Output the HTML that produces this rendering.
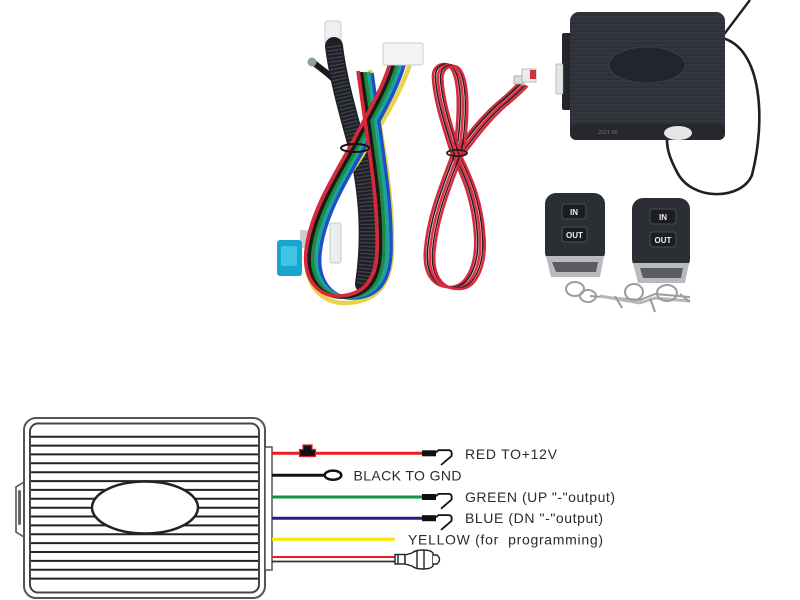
<!DOCTYPE html>
<html><head><meta charset="utf-8"><style>
html,body{margin:0;padding:0;background:#fff;}
svg{display:block;}
</style></head><body>
<svg width="800" height="600" viewBox="0 0 800 600" xmlns="http://www.w3.org/2000/svg">
<rect width="800" height="600" fill="#fff"/>
<defs>
<clipPath id="boxclip"><rect x="570" y="12" width="155" height="128" rx="9"/></clipPath>
<path id="bundle" d="M398,64 C390,92 372,120 358,148 C340,180 318,215 314,252 C311,282 328,298 347,297 C370,296 384,284 385,250 C386,200 378,160 366,72"/>
<path id="ybundle" d="M410,64 C400,95 380,125 364,152 C346,184 312,212 307,252 C303,288 325,304 346,303 C374,302 391,288 392,250 C393,200 386,160 370,70"/>
<path id="rloop" d="M456,155 C445,185 432,215 429,250 C427,275 438,288 455,287 C472,286 481,262 479,235 C477,200 466,175 456,155 C448,130 438,100 437,78 C436,66 446,62 452,65 C462,72 463,100 461,125 C460,140 458,150 456,155 C468,140 480,122 500,104 C510,96 516,90 522,84"/>
</defs>

<!-- ===== Harness ===== -->
<rect x="325" y="21" width="16" height="23" rx="3" fill="#eef1f1" stroke="#c9cccc" stroke-width="1"/>
<path d="M313,62 C322,70 330,74 340,86" stroke="#1a1a1a" stroke-width="6" fill="none" stroke-linecap="round"/>
<circle cx="312" cy="62" r="4.5" fill="#8fa096"/>
<path d="M334,46 C338,80 350,120 358,150 C366,185 372,230 364,284" stroke="#1e2026" stroke-width="18" fill="none" stroke-linecap="round"/>
<path d="M334,46 C338,80 350,120 358,150 C366,185 372,230 364,284" stroke="#40434c" stroke-width="15" fill="none" stroke-dasharray="1.3 2.4"/>
<!-- fuse & connectors -->
<rect x="300" y="230" width="11" height="18" fill="#c9cfd2"/>
<rect x="277" y="240" width="25" height="36" rx="3" fill="#18a6cf"/>
<rect x="281" y="246" width="16" height="20" rx="2" fill="#43c3e2"/>
<rect x="330" y="223" width="11" height="40" rx="2" fill="#e9eeee" stroke="#c5cbcb"/>
<!-- colored wires -->
<use href="#ybundle" stroke="#e8d34a" stroke-width="4.5" fill="none"/>
<use href="#bundle" transform="translate(6,1)" stroke="#1f4fc8" stroke-width="3.6" fill="none"/>
<use href="#bundle" transform="translate(2.5,0)" stroke="#1aa49a" stroke-width="3.6" fill="none"/>
<use href="#bundle" transform="translate(-1,0)" stroke="#1e8a40" stroke-width="3.6" fill="none"/>
<use href="#bundle" transform="translate(-4.5,0)" stroke="#1a1a1a" stroke-width="3.6" fill="none"/>
<use href="#bundle" transform="translate(-8,-1)" stroke="#d8283a" stroke-width="3.6" fill="none"/>
<ellipse cx="355" cy="148" rx="14" ry="4" fill="none" stroke="#111" stroke-width="2"/>
<rect x="383" y="43" width="40" height="22" rx="2" fill="#f2f4f5" stroke="#c8cccf"/>

<!-- ===== Red cable ===== -->
<use href="#rloop" transform="translate(-4,0)" stroke="#d42a3c" stroke-width="2.6" fill="none"/>
<use href="#rloop" transform="translate(-1.5,0)" stroke="#222" stroke-width="1.6" fill="none"/>
<use href="#rloop" transform="translate(1,1)" stroke="#e0304a" stroke-width="2.6" fill="none"/>
<use href="#rloop" transform="translate(3.5,1)" stroke="#2a1a1a" stroke-width="1.4" fill="none"/>
<use href="#rloop" transform="translate(5.5,2)" stroke="#d8283a" stroke-width="2.4" fill="none"/>
<ellipse cx="457" cy="153" rx="10" ry="3.2" fill="none" stroke="#222" stroke-width="1.8"/>
<rect x="514" y="76" width="10" height="8" fill="#dcdcdc" stroke="#999" stroke-width="0.8"/>
<rect x="522" y="69" width="14" height="13" fill="#ececec" stroke="#aaa" stroke-width="0.8"/>
<rect x="530" y="70" width="6" height="9" fill="#d03040"/>

<!-- ===== Control box ===== -->
<path d="M722,38 C762,48 766,120 752,175 C742,200 692,202 677,172 C669,157 667,148 667,140" stroke="#1e1f22" stroke-width="2.6" fill="none"/>
<path d="M722,37 L750,0" stroke="#1e1f22" stroke-width="2.4" fill="none"/>
<rect x="562" y="33" width="11" height="77" rx="2" fill="#24262c"/>
<rect x="556" y="64" width="7" height="30" fill="#e4e6e6" stroke="#999" stroke-width="0.6"/>
<rect x="570" y="12" width="155" height="128" rx="9" fill="#2d3037"/>
<g clip-path="url(#boxclip)" stroke="#3a3d45" stroke-width="1">
<path d="M570,17H725M570,21H725M570,25H725M570,29H725M570,33H725M570,37H725M570,41H725M570,45H725M570,49H725M570,53H725M570,57H725M570,61H725M570,65H725M570,69H725M570,73H725M570,77H725M570,81H725M570,85H725M570,89H725M570,93H725M570,97H725M570,101H725M570,105H725M570,109H725M570,113H725M570,117H725M570,121H725"/>
</g>
<rect x="570" y="124" width="155" height="16" rx="6" fill="#26282e"/>
<ellipse cx="647" cy="65" rx="38" ry="18" fill="#22252b" stroke="#3c3f46" stroke-width="1"/>
<text x="598" y="134" font-family="Liberation Serif, serif" font-size="6" fill="#777">2021.06</text>
<ellipse cx="678" cy="133" rx="14" ry="7" fill="#e6e6e6"/>

<!-- ===== Remotes ===== -->
<g>
<rect x="545" y="193" width="60" height="70" rx="11" fill="#2b2e35"/>
<rect x="562" y="204" width="24" height="15" rx="3" fill="#1b1d21" stroke="#4a4d54"/>
<text x="574" y="215" font-family="Liberation Sans, sans-serif" font-size="8" font-weight="bold" fill="#eee" text-anchor="middle">IN</text>
<rect x="562" y="227" width="25" height="15" rx="3" fill="#1b1d21" stroke="#4a4d54"/>
<text x="574.5" y="238" font-family="Liberation Sans, sans-serif" font-size="8" font-weight="bold" fill="#eee" text-anchor="middle">OUT</text>
<path d="M546,256 L604,256 L600,277 L551,277 Z" fill="#b9babd"/>
<path d="M552,262 L598,262 L596,272 L556,272 Z" fill="#5a5c60"/>
</g>
<g>
<rect x="632" y="198" width="58" height="72" rx="11" fill="#2b2e35"/>
<rect x="650" y="209" width="26" height="15" rx="3" fill="#1b1d21" stroke="#4a4d54"/>
<text x="663" y="220" font-family="Liberation Sans, sans-serif" font-size="8" font-weight="bold" fill="#eee" text-anchor="middle">IN</text>
<rect x="650" y="232" width="26" height="15" rx="3" fill="#1b1d21" stroke="#4a4d54"/>
<text x="663" y="243" font-family="Liberation Sans, sans-serif" font-size="8" font-weight="bold" fill="#eee" text-anchor="middle">OUT</text>
<path d="M633,263 L689,263 L685,283 L638,283 Z" fill="#b9babd"/>
<path d="M640,268 L683,268 L681,278 L643,278 Z" fill="#5a5c60"/>
</g>
<g fill="none" stroke="#9a9ca0" stroke-width="2">
<ellipse cx="575" cy="289" rx="9" ry="7"/>
<ellipse cx="588" cy="296" rx="8" ry="6"/>
<path d="M590,296 L640,300 L655,294 L690,297"/>
<path d="M600,296 L640,303 L655,298 L690,301" stroke="#b5b7ba" stroke-width="3"/>
<ellipse cx="634" cy="292" rx="9" ry="8"/>
<ellipse cx="667" cy="293" rx="10" ry="8"/>
<path d="M615,296 L622,308 M650,298 L655,312 M680,294 L690,302"/>
</g>

<!-- ===== Diagram box ===== -->
<path d="M24,482 L16,487 L16,532 L24,537" fill="#fff" stroke="#555" stroke-width="1.6"/>
<rect x="18" y="490" width="3" height="35" rx="1.5" fill="#666"/>
<rect x="24" y="418" width="241" height="180" rx="12" fill="#fff" stroke="#555" stroke-width="2"/>
<rect x="30" y="423.5" width="229" height="169" rx="8" fill="#fff" stroke="#444" stroke-width="2"/>
<g stroke="#222" stroke-width="2">
<path d="M31,436.7H258M31,445.6H258M31,454.4H258M31,463.3H258M31,472.2H258M31,481.1H258M31,489.9H258M31,498.8H258M31,507.7H258M31,516.5H258M31,525.4H258M31,534.3H258M31,543.1H258M31,552H258M31,560.9H258M31,569.7H258M31,578.6H258"/>
</g>
<ellipse cx="145" cy="507.5" rx="53" ry="26" fill="#fff" stroke="#222" stroke-width="2.5"/>
<rect x="265" y="447" width="7" height="123" fill="#fff" stroke="#555" stroke-width="1.5"/>

<!-- wires -->
<line x1="272" y1="453.3" x2="423" y2="453.3" stroke="#ec1c24" stroke-width="3"/>
<path d="M303,449.5 V445 H312 V449.5 H315.5 V456.5 H299.5 V449.5 Z" fill="#111" stroke="#ec1c24" stroke-width="1.2"/>
<line x1="272" y1="475.3" x2="325" y2="475.3" stroke="#111" stroke-width="3"/>
<ellipse cx="333" cy="475.2" rx="8.3" ry="4.6" fill="#fff" stroke="#111" stroke-width="2.5"/>
<line x1="272" y1="497" x2="423" y2="497" stroke="#0e9444" stroke-width="3"/>
<line x1="272" y1="518.2" x2="423" y2="518.2" stroke="#2b1a8c" stroke-width="3"/>
<line x1="272" y1="539.2" x2="395" y2="539.2" stroke="#f7e600" stroke-width="3"/>
<line x1="272" y1="557" x2="397" y2="557" stroke="#ec1c24" stroke-width="2"/>
<line x1="272" y1="561.5" x2="397" y2="561.5" stroke="#333" stroke-width="1.8"/>

<!-- spade terminals -->
<g fill="none" stroke="#111" stroke-width="1.8">
<g>
<rect x="422" y="450.3" width="14" height="6" fill="#111" stroke="none"/>
<path d="M436,452.5 L438.5,450.2 L449,450.2 Q452.5,450.5 451.5,456 L441,465"/>
</g>
<g transform="translate(0,43.7)">
<rect x="422" y="450.3" width="14" height="6" fill="#111" stroke="none"/>
<path d="M436,452.5 L438.5,450.2 L449,450.2 Q452.5,450.5 451.5,456 L441,465"/>
</g>
<g transform="translate(0,64.9)">
<rect x="422" y="450.3" width="14" height="6" fill="#111" stroke="none"/>
<path d="M436,452.5 L438.5,450.2 L449,450.2 Q452.5,450.5 451.5,456 L441,465"/>
</g>
</g>

<!-- bottom connector -->
<g fill="#fff" stroke="#222" stroke-width="1.4">
<rect x="395" y="554.5" width="10" height="9.5"/>
<line x1="398" y1="555" x2="398" y2="564"/>
<path d="M405,555 L412,553 C416,549 430,549 433,553 L433,566 C430,570 416,570 412,566 L405,564 Z"/>
<line x1="417" y1="551" x2="417" y2="568"/>
<line x1="424" y1="550" x2="424" y2="569"/>
<path d="M433,555 H437 Q442,559.5 437,564 H433"/>
</g>

<!-- labels -->
<g font-family="Liberation Sans, Arial, sans-serif" font-size="14" fill="#2b2b2b">
<text x="465" y="459" textLength="92">RED TO+12V</text>
<text x="353.5" y="480.3" textLength="108">BLACK TO GND</text>
<text x="465" y="502" textLength="150">GREEN (UP "-"output)</text>
<text x="465" y="523" textLength="138">BLUE (DN "-"output)</text>
<text x="408" y="544.5" textLength="195">YELLOW (for&#160; programming)</text>
</g>
</svg>
</body></html>
